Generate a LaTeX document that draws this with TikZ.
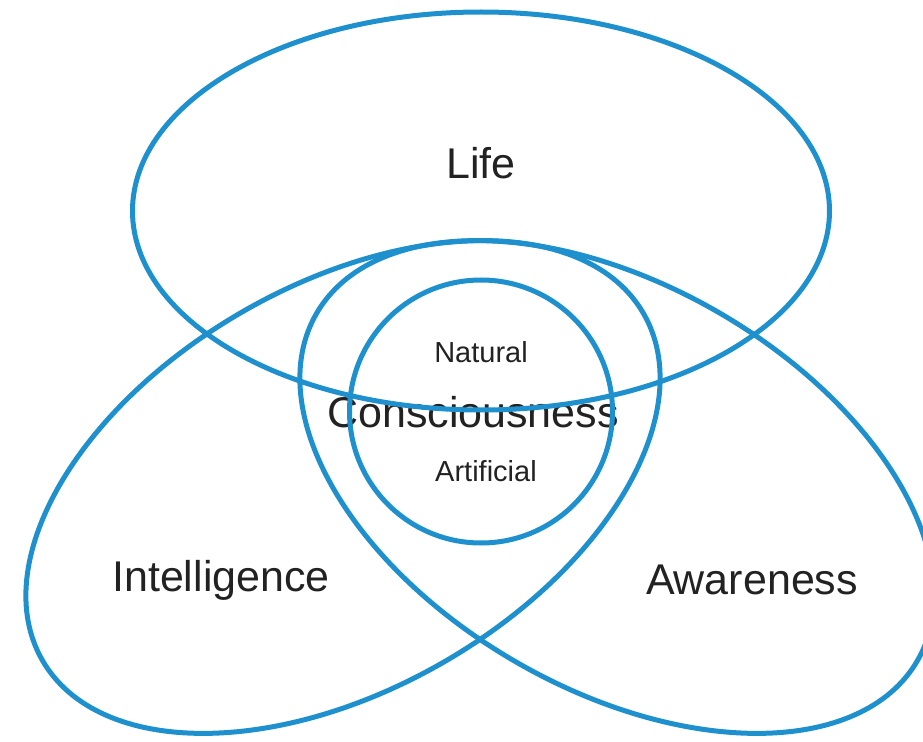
\documentclass[tikz,border=0pt]{standalone}
\usepackage{fontspec}
\setmainfont{Liberation Sans}
\usepackage{xcolor}
\usetikzlibrary{positioning, shapes.geometric}
\definecolor{ringblue}{RGB}{30,144,206}
\definecolor{labelgray}{RGB}{34,34,34}

\begin{document}
\begin{tikzpicture}[x=0.5pt, y=0.5pt,
        ring/.style={ellipse, draw=ringblue, line width=2.5pt, inner sep=0pt},
        biglabel/.style={text=labelgray, font=\fontsize{21.5}{24}\selectfont, inner sep=0pt},
        smalllabel/.style={text=labelgray, font=\fontsize{14.5}{16}\selectfont, inner sep=0pt}]
        \useasboundingbox (0,0) rectangle (923,741);
        % labels
        \node[biglabel] (life) at (481,578) {Life};
        \node[biglabel] (intel) at (221,161) {Intelligence};
        \node[biglabel] (aware) at (752,161) {Awareness};
        \node[biglabel] (consc) at (473,329) {Consciousness};
        \node[smalllabel] (natural) at (481,389) {Natural};
        \node[smalllabel] (artificial) at (486,270) {Artificial};
        % rings (sizes in pt, half of the pixel values)
        \node[ring, minimum width=348.5pt, minimum height=199pt] (lifering) at (481,530) {};
        \node[ring, minimum width=347pt, minimum height=202pt, rotate=30] (intelring) at (343,254) {};
        \node[ring, minimum width=347pt, minimum height=202pt, rotate=-30] (awarering) at (617,254) {};
        \node[ring, circle, minimum size=131.5pt] (conscring) at (481,329.5) {};
    \end{tikzpicture}
\end{document}
